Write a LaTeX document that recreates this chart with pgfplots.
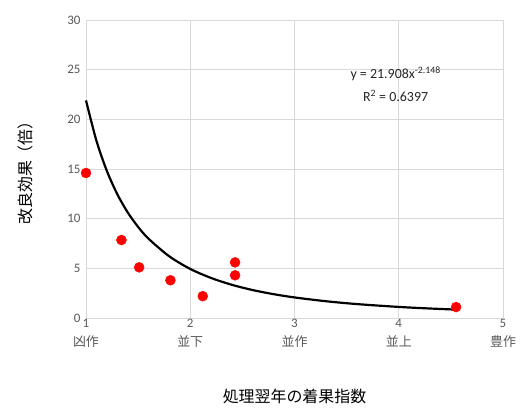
\documentclass[border=0pt]{standalone}
\usepackage{pgfplots}
\pgfplotsset{compat=1.18}
\usepackage{fontspec}
\setmainfont{Carlito}
\newfontfamily\jp{Noto Sans CJK JP}
\definecolor{tickgray}{HTML}{595959}
\definecolor{gridgray}{HTML}{D9D9D9}
\begin{document}
\begin{tikzpicture}
\begin{axis}[
  scale only axis,
  width=417bp, height=298bp,
  xmin=1, xmax=5, ymin=0, ymax=30,
  xtick={1,2,3,4,5},
  xticklabels={1\\{\jp 凶作},2\\{\jp 並下},3\\{\jp 並作},4\\{\jp 並上},5\\{\jp 豊作}},
  xticklabel style={align=center, text=tickgray, font=\fontsize{13}{19}\selectfont, yshift=2pt},
  ytick={0,5,...,30},
  yticklabel style={text=tickgray, font=\fontsize{13}{15}\selectfont, xshift=-2pt},
  /pgf/number format/assume math mode=true,
  grid=major,
  major grid style={gridgray, line width=0.6pt},
  axis line style={draw=none},
  tick style={draw=none},
  xlabel={\jp 処理翌年の着果指数},
  ylabel={\jp 改良効果（倍）},
  xlabel style={font=\fontsize{16}{18}\selectfont, text=black, yshift=-34pt},
  ylabel style={font=\fontsize{16}{18}\selectfont, text=black, yshift=28pt},
  clip=false,
]
\addplot[black, line width=2.2pt, smooth] coordinates {
(1.0,21.908) (1.1,17.85) (1.2,14.81) (1.3,12.47) (1.4,10.63) (1.5,9.17) (1.6,7.98)
(1.8,6.20) (2.0,4.94) (2.2,4.03) (2.4,3.34) (2.6,2.81) (2.8,2.40) (3.0,2.07)
(3.3,1.69) (3.6,1.40) (4.0,1.115) (4.3,0.955) (4.55,0.846)};
\addplot[only marks, mark=*, mark size=5bp, color=red, mark options={draw=red, fill=red}] coordinates {
(1.0,14.6) (1.34,7.85) (1.51,5.1) (1.81,3.8) (2.12,2.2) (2.43,5.6) (2.43,4.3) (4.55,1.1)};
\node[font=\fontsize{14}{23}\selectfont, align=center, text=black!85] at (axis cs:3.97,23.5)
  {y = 21.908x\textsuperscript{-2.148}\\R\textsuperscript{2} = 0.6397};
\path (rel axis cs:0,0) ++(-86bp,-99bp) coordinate (bbA);
\path (rel axis cs:1,1) ++(22bp,20bp) coordinate (bbB);
\end{axis}
\useasboundingbox (bbA) rectangle (bbB);
\end{tikzpicture}
\end{document}
